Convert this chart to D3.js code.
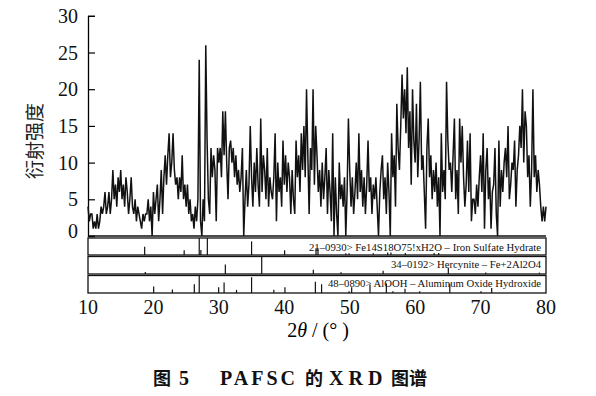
<!DOCTYPE html>
<html>
<head>
  <meta charset="utf-8">
  <title>xrd</title>
  <style>
    * { margin: 0; padding: 0; }
    body { background: #fff; width: 596px; height: 396px; overflow: hidden; }
    svg { display: block; }
    .tick-label { font-family: "Liberation Serif", serif; font-size: 20px; fill: #111; }
    .ref-label { font-family: "Liberation Serif", serif; font-size: 11px; fill: #111; }
    .cap-cjk { font-family: "Noto Sans CJK SC", sans-serif; font-weight: bold; font-size: 18px; fill: #111; }
    .cap-lat { font-family: "Liberation Serif", serif; font-weight: bold; font-size: 20px; fill: #111; }
  </style>
</head>
<body>
  <svg id="svg"></svg>
  <script src="https://cdnjs.cloudflare.com/ajax/libs/d3/7.8.5/d3.min.js"></script>
  <script>
    // scan: start angle and step, intensities
    const scanStart = 10
    const scanStep = 0.2
    const intensity = [
      4, 2, 3, 3, 1,  2, 1, 3, 1, 2,  4, 3, 4, 6, 3,  4, 6, 3, 5, 9,  5, 7, 4, 8, 6,
      9, 5, 7, 4, 8,  6, 3, 5, 8, 4,  3, 5, 2, 4, 3,  2, 1, 3, 2, 3,  3, 5, 2, 4, 0,
      6, 3, 5, 7, 2,  5, 9, 3, 8, 11, 7, 11, 14, 8, 10, 14, 9, 7, 8, 5, 8, 6, 11, 5, 7,
      4, 7, 3, 5, 2,  3, 1, 4, 2, 5,  24, 2, 0, 5, 2,  26, 13, 5, 3, 12, 8, 11, 9, 2, 12,
      10, 12, 8, 17, 11, 17, 10, 5, 12, 13, 10, 12, 8, 11, 7, 9, 6, 8, 12, 0, 5, 9, 4, 7, 15,
      8, 4, 10, 6, 12, 7, 4, 16, 6, 11, 9, 5, 12, 4, 8,  6, 5, 8, 14, 2,  10, 6, 8, 4, 13,
      7, 11, 6, 10, 8, 3, 9, 5, 3, 13, 8, 11, 6, 14, 9,  15, 8, 20, 11, 3, 12, 9, 20, 7, 15,
      11, 6, 9, 4, 10, 5, 8, 12, 3, 9, 6, 2, 14, 0, 8,  3, 0, 10, 5, 7,  4, 8, 0, 6, 16,
      9, 4, 8, 3, 6,  10, 5, 14, 6, 9, 4, 8, 3, 7, 13,  6, 8, 3, 7, 5,  8, 4, 0, 6, 9,
      11, 5, 8, 3, 10, 6, 0, 14, 8, 11, 4, 18, 12, 9, 15, 22, 16, 20, 14, 23, 12, 17, 7, 20, 13,
      10, 18, 8, 13, 21, 9, 11, 6, 1, 12, 16, 8, 11, 5, 9, 6, 10, 4, 8, 0, 14, 6, 9, 5, 21,
      13, 9, 10, 6, 11, 16, 5, 9, 3, 16, 10, 15, 8, 4, 7, 13, 6, 14, 2, 5, 5, 3, 7, 4, 8,
      11, 6, 14, 1, 9, 12, 5, 8, 1, 6, 7, 12, 3, 0, 13,  4, 9, 6, 10, 12, 8, 15, 5, 7, 10,
      9, 13, 4, 9, 11, 15, 12, 20, 10, 17, 15, 8, 11, 4, 9, 20, 8, 11, 6, 9, 7, 4, 2, 4, 2,
      4
    ]

    const xTicks = [10, 20, 30, 40, 50, 60, 70, 80]
    const yTicks = [0, 5, 10, 15, 20, 25, 30]

    // reference cards: peak positions (2theta) and relative heights (%)
    const refNames = [
      '21\u20130930> Fe14S18O75!xH2O \u2013 Iron Sulfate Hydrate',
      '34\u20130192> Hercynite \u2013 Fe+2Al2O4',
      '48\u20130890> AlOOH \u2013 Aluminum Oxide Hydroxide'
    ]
    const ref1Pos = [18.66, 24.7, 27.0, 27.25, 28.24, 35.0, 40.05, 44.85, 45.15, 49.4, 49.9, 53.6, 55.8, 56.3, 58.5, 62.9, 63.6]
    const ref1Int = [48, 28, 100, 30, 100, 80, 28, 40, 40, 10, 10, 10, 15, 15, 12, 12, 12]
    const ref2Pos = [18.76, 30.99, 36.55, 44.44, 48.67, 55.1, 65.07, 70.8, 79.0]
    const ref2Int = [12, 55, 100, 25, 10, 18, 35, 8, 8]
    const ref3Pos = [20.04, 22.9, 26.25, 27.0, 29.97, 30.8, 32.7, 35.0, 38.4, 40.1, 44.75, 45.7, 49.9, 50.3, 53.1, 55.6, 56.6, 58.45, 60.7, 65.3, 70.06, 71.7]
    const ref3Int = [37, 20, 50, 100, 33, 60, 18, 90, 18, 33, 65, 50, 10, 33, 48, 55, 10, 25, 10, 55, 10, 28]

    const dim = { width: 596, height: 396, left: 88, right: 546, top: 15.8, bottom: 236 }
    const panels = [
      { top: 238, bottom: 255, pos: ref1Pos, int: ref1Int, name: refNames[0], base: 250.5, len: 232 },
      { top: 256.5, bottom: 274, pos: ref2Pos, int: ref2Int, name: refNames[1], base: 268, len: 150 },
      { top: 275.5, bottom: 293, pos: ref3Pos, int: ref3Int, name: refNames[2], base: 286.5, len: 213 }
    ]

    const svg = d3.select('#svg').attr('width', dim.width).attr('height', dim.height)

    const xScale = d3.scaleLinear().domain([10, 80]).range([dim.left, dim.right])
    const yScale = d3.scaleLinear().domain([0, 30]).range([dim.bottom, dim.top])

    // y axis, ticks pointing inwards
    const yAxis = d3.axisRight(yScale).tickValues(yTicks).tickSize(7).tickFormat('')
    svg.append('g')
      .attr('transform', `translate(${dim.left}, 0)`)
      .call(yAxis)
      .call(g => g.select('.domain').attr('stroke-width', 1.3))
      .call(g => g.selectAll('.tick line').attr('stroke-width', 1.2))

    svg.append('g').selectAll('text')
      .data(yTicks)
      .enter()
      .append('text')
      .attr('class', 'tick-label')
      .attr('x', 78)
      .attr('y', d => yScale(d) - (d === 0 ? 5 : 0))
      .attr('dy', '0.35em')
      .attr('text-anchor', 'end')
      .text(d => d)

    // bottom line of the scan area
    svg.append('line')
      .attr('x1', dim.left).attr('x2', dim.right)
      .attr('y1', dim.bottom).attr('y2', dim.bottom)
      .attr('stroke', '#111').attr('stroke-width', 1.3)

    const line = d3.line()
      .x((d, i) => xScale(scanStart + i * scanStep))
      .y(d => yScale(d))

    svg.append('path')
      .datum(intensity)
      .attr('d', line)
      .attr('fill', 'none')
      .attr('stroke', '#111')
      .attr('stroke-width', 1.5)
      .attr('stroke-linejoin', 'miter')
      .attr('stroke-miterlimit', 2)

    // reference stick panels
    panels.forEach(p => {
      const g = svg.append('g')
      g.append('rect')
        .attr('x', dim.left).attr('y', p.top)
        .attr('width', dim.right - dim.left).attr('height', p.bottom - p.top)
        .attr('fill', 'none').attr('stroke', '#111').attr('stroke-width', 1.3)
      const h = d3.scaleLinear().domain([0, 100]).range([p.bottom, p.top])
      g.selectAll('line.stick')
        .data(p.pos)
        .enter()
        .append('line')
        .attr('class', 'stick')
        .attr('x1', d => xScale(d)).attr('x2', d => xScale(d))
        .attr('y1', p.bottom)
        .attr('y2', (d, i) => h(p.int[i]))
        .attr('stroke', '#111').attr('stroke-width', 1.2)
      g.append('text')
        .attr('class', 'ref-label')
        .attr('x', 541)
        .attr('y', p.base)
        .attr('text-anchor', 'end')
        .attr('textLength', p.len)
        .attr('lengthAdjust', 'spacingAndGlyphs')
        .text(p.name)
    })

    // x tick labels
    svg.append('g').selectAll('text')
      .data(xTicks)
      .enter()
      .append('text')
      .attr('class', 'tick-label')
      .attr('x', d => xScale(d))
      .attr('y', 314)
      .attr('text-anchor', 'middle')
      .text(d => d)

    // axis titles
    const xt = svg.append('text')
      .attr('x', 318).attr('y', 337)
      .attr('text-anchor', 'middle')
      .style('font-family', '"Liberation Serif", serif')
      .style('font-size', '20px')
    xt.append('tspan').text('2')
    xt.append('tspan').style('font-style', 'italic').text('\u03b8')
    xt.append('tspan').text(' / (\u00b0 )')

    svg.append('text')
      .attr('transform', 'translate(42, 141) rotate(-90)')
      .attr('text-anchor', 'middle')
      .style('font-family', '"Noto Sans CJK SC", sans-serif')
      .style('font-size', '19px')
      .attr('fill', '#222')
      .text('衍射强度')

    // caption, pieces placed one by one
    const capY = 385
    svg.append('text').attr('class', 'cap-cjk').attr('x', 153).attr('y', capY).text('图')
    svg.append('text').attr('class', 'cap-lat').attr('x', 179).attr('y', capY).text('5')
    svg.append('text').attr('class', 'cap-lat').attr('x', 220).attr('y', capY)
      .style('letter-spacing', '3px').text('PAFSC')
    svg.append('text').attr('class', 'cap-cjk').attr('x', 305).attr('y', capY).text('的')
    svg.append('text').attr('class', 'cap-lat').attr('x', 329).attr('y', capY)
      .style('letter-spacing', '5px').text('XRD')
    svg.append('text').attr('class', 'cap-cjk').attr('x', 391).attr('y', capY).text('图谱')
  </script>
</body>
</html>
